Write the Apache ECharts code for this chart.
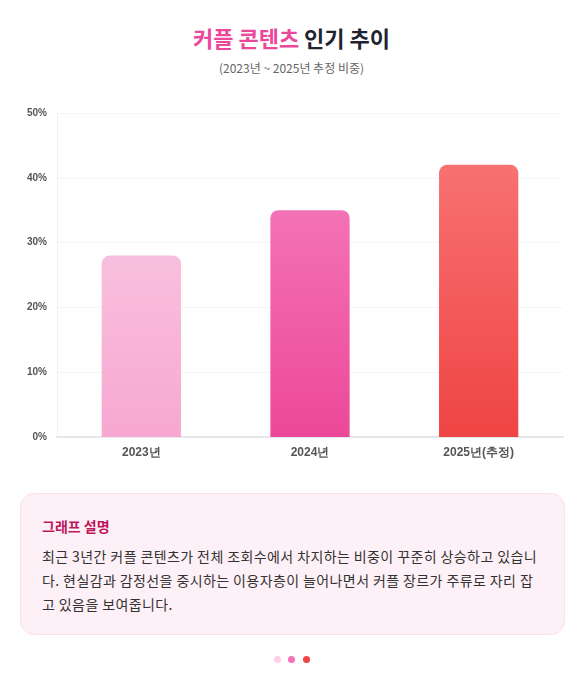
<!DOCTYPE html>
<html><head><meta charset="utf-8">
<script src="https://cdn.jsdelivr.net/npm/echarts@6/dist/echarts.min.js"></script>
<style>
body{margin:0;background:#fff;font-family:"Noto Sans CJK KR","Noto Sans",sans-serif;width:583px;height:687px;position:relative;overflow:hidden}
#t{position:absolute;top:21px;width:100%;text-align:center;font-size:22px;font-weight:700;color:#1f2430}
#t span{color:#ec4899}
#s{position:absolute;top:59px;width:100%;text-align:center;font-size:12px;color:#666}
#c{position:absolute;left:0;top:95px;width:583px;height:375px}
#card{position:absolute;left:20px;top:493px;width:545px;height:142px;box-sizing:border-box;border:1px solid #fbe0ee;background:#fdf0f6;border-radius:14px;padding:22px 21px}
#card h3{margin:0 0 8px;font-size:14px;color:#be185d;font-weight:700}
#card p{margin:0;font-size:14px;line-height:24px;color:#333;word-break:break-all;letter-spacing:0.4px}
.d{position:absolute;top:656px;width:7px;height:7px;border-radius:50%}
</style></head><body>
<div id="t"><span>커플 콘텐츠</span> 인기 추이</div>
<div id="s">(2023년 ~ 2025년 추정 비중)</div>
<div id="c"></div>
<div id="card"><h3>그래프 설명</h3><p>최근 3년간 커플 콘텐츠가 전체 조회수에서 차지하는 비중이 꾸준히 상승하고 있습니다. 현실감과 감정선을 중시하는 이용자층이 늘어나면서 커플 장르가 주류로 자리 잡고 있음을 보여줍니다.</p></div>
<div class="d" style="left:274px;background:#fbcfe8"></div>
<div class="d" style="left:288px;background:#f472b6"></div>
<div class="d" style="left:303px;background:#ef4444"></div>
<script>
const categories=['2023년','2024년','2025년(추정)'];
const values=[28,35,42];
const tops=['#f9bfdf','#f472b6','#f87171'];
const bottoms=['#f7a8d0','#ec4899','#ef4444'];
const ch=echarts.init(document.getElementById('c'));
ch.setOption({
 animation:false,
 grid:{left:57,right:20,top:18,bottom:33},
 xAxis:{type:'category',data:categories,axisTick:{show:false},
  axisLine:{lineStyle:{color:'#e5e7eb',width:2}},
  axisLabel:{color:'#555',fontSize:12,fontWeight:'bold',margin:10}},
 yAxis:{type:'value',min:0,max:50,interval:10,
  axisLabel:{formatter:'{value}%',color:'#555',fontSize:10,fontWeight:'bold',margin:10},
  axisLine:{show:true,lineStyle:{color:'#f1f1f1'}},
  splitLine:{lineStyle:{color:'#f5f5f5'}}},
 series:[{type:'bar',barWidth:'47%',
  data:values.map((v,i)=>({value:v,itemStyle:{borderRadius:[8,8,0,0],
   color:new echarts.graphic.LinearGradient(0,0,0,1,[{offset:0,color:tops[i]},{offset:1,color:bottoms[i]}])}}))}]
});
</script></body></html>
